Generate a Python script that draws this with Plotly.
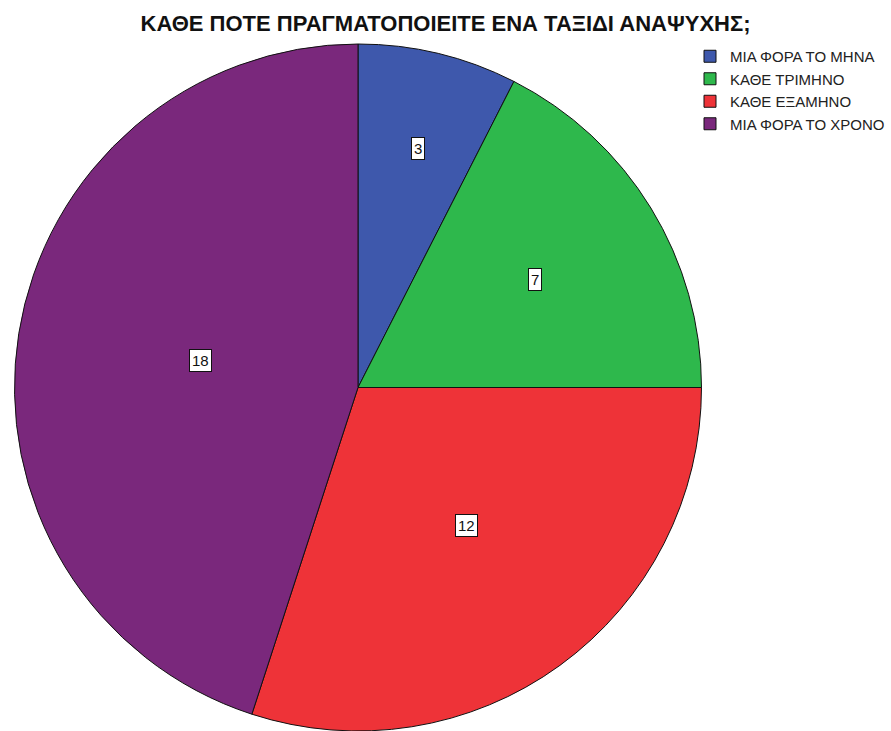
import math
import plotly.graph_objects as go

categories = ["ΜΙΑ ΦΟΡΑ ΤΟ ΜΗΝΑ", "ΚΑΘΕ ΤΡΙΜΗΝΟ", "ΚΑΘΕ ΕΞΑΜΗΝΟ", "ΜΙΑ ΦΟΡΑ ΤΟ ΧΡΟΝΟ"]
counts = [3, 7, 12, 18]
colors = ["#3E58AC", "#2EB84C", "#EE3338", "#7A287C"]
title_text = "ΚΑΘΕ ΠΟΤΕ ΠΡΑΓΜΑΤΟΠΟΙΕΙΤΕ ΕΝΑ ΤΑΞΙΔΙ ΑΝΑΨΥΧΗΣ;"

W, H = 891, 731
# pie domain (paper fractions)
dx0, dx1 = 12 / W, 704 / W
dy0, dy1 = 0.0, 1 - 44 / H

fig = go.Figure(go.Pie(
    labels=categories, values=counts, sort=False, direction="clockwise", rotation=0,
    marker=dict(colors=colors, line=dict(color="#111111", width=1)),
    textinfo="none", hoverinfo="label+value",
    domain=dict(x=[dx0, dx1], y=[dy0, dy1]),
))

# value labels placed along each slice's mid-angle, derived from the data
total = sum(counts)
cx_px = (dx0 + dx1) / 2 * W
cy_px = (1 - (dy0 + dy1) / 2) * H
R = min((dx1 - dx0) * W, (dy1 - dy0) * H) / 2
start = 0.0
for v in counts:
    f = v / total
    ang = f * 2 * math.pi
    mid = start + ang / 2
    r = R * (0.323 + 0.117 / math.sqrt(f))
    px = cx_px + r * math.sin(mid)
    py = cy_px - r * math.cos(mid)
    fig.add_annotation(
        x=px / W, y=1 - py / H, xref="paper", yref="paper", text=str(v), showarrow=False,
        font=dict(family="Liberation Sans, Arial", size=15, color="#111111"),
        bgcolor="white", bordercolor="#111111", borderwidth=1, borderpad=2,
    )
    start += ang

fig.update_layout(
    width=W, height=H,
    margin=dict(l=0, r=0, t=0, b=0),
    paper_bgcolor="white", plot_bgcolor="white",
    title=dict(text="<b>" + title_text + "</b>", x=0.5, xanchor="center", y=1 - 23 / H, yanchor="middle",
               font=dict(family="Liberation Sans, Arial", size=22, color="#111111")),
    legend=dict(x=690 / W, y=1 - 40 / H, xanchor="left", yanchor="top", traceorder="normal",
                font=dict(family="Liberation Sans, Arial", size=15, color="#222222"),
                itemwidth=30, bgcolor="rgba(0,0,0,0)", tracegroupgap=0),
    showlegend=True,
)

fig.write_html("out.html")
